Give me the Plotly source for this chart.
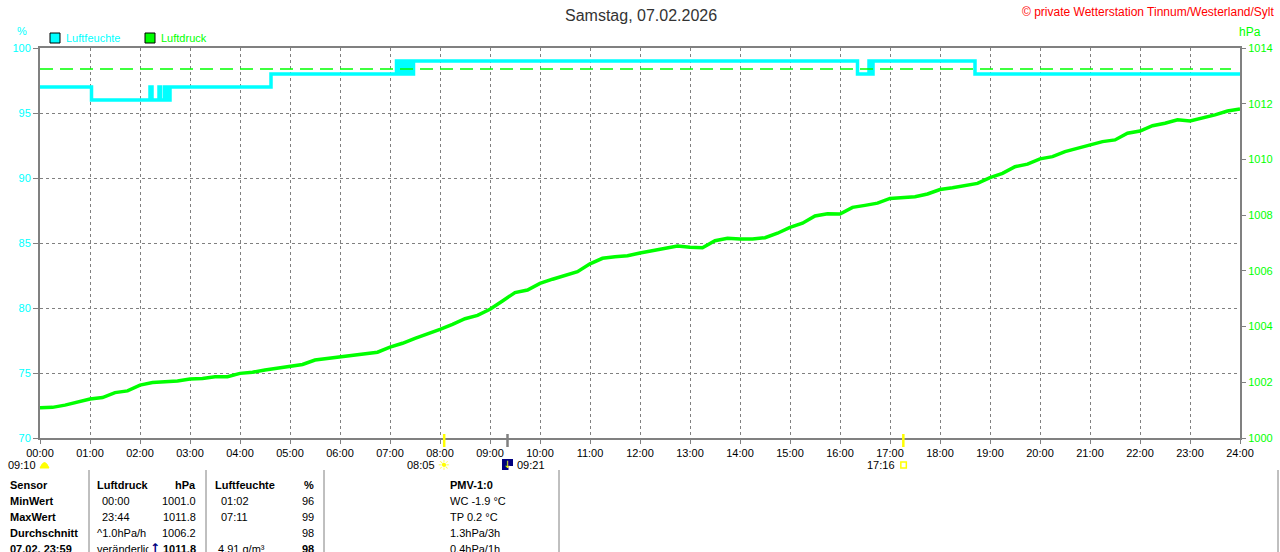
import plotly.graph_objects as go

# Luftdruck in hPa, alle 15 Minuten von 00:00 bis 24:00
druck = [
    1001.09, 1001.10, 1001.18, 1001.30, 1001.40, 1001.45, 1001.63, 1001.69,
    1001.90, 1001.99, 1002.01, 1002.05, 1002.12, 1002.14, 1002.20, 1002.20,
    1002.32, 1002.36, 1002.44, 1002.51, 1002.58, 1002.64, 1002.80, 1002.86,
    1002.90, 1002.99, 1003.04, 1003.08, 1003.26, 1003.40, 1003.58, 1003.73,
    1003.90, 1004.08, 1004.28, 1004.40, 1004.62, 1004.92, 1005.22, 1005.31,
    1005.55, 1005.70, 1005.82, 1005.97, 1006.25, 1006.45, 1006.51, 1006.54,
    1006.64, 1006.72, 1006.81, 1006.89, 1006.85, 1006.83, 1007.08, 1007.17,
    1007.14, 1007.14, 1007.19, 1007.35, 1007.56, 1007.71, 1007.97, 1008.05,
    1008.04, 1008.28, 1008.35, 1008.43, 1008.60, 1008.63, 1008.66, 1008.76,
    1008.92, 1008.98, 1009.05, 1009.14, 1009.35, 1009.50, 1009.74, 1009.83,
    1010.02, 1010.10, 1010.28, 1010.40, 1010.49, 1010.64, 1010.70, 1010.94,
    1011.02, 1011.21, 1011.30, 1011.42, 1011.38, 1011.48, 1011.60, 1011.74,
    1011.81,
]
druck_zeit = [i / 4 for i in range(len(druck))]

# Luftfeuchte in %, Zeitpunkte der Stufenwechsel (Stunden)
feuchte_zeit = [0, 1.03, 2.20, 2.24, 2.38, 2.41, 2.49, 2.54, 2.60, 4.62,
                7.13, 7.16, 7.19, 7.23, 7.26, 7.30, 7.33, 7.37, 7.40, 7.44, 7.47,
                16.35, 16.58, 16.61, 16.66, 18.70, 24.0]
feuchte = [97, 96, 97, 96, 97, 96, 97, 96, 97, 98,
           99, 98, 99, 98, 99, 98, 99, 98, 99, 98, 99,
           98, 99, 98, 99, 98, 98]

normaldruck = 1013.25
normal_zeit = [0, 23.82]

stunden = list(range(25))
stunden_text = [f"{h:02d}:00" for h in stunden]

# Sonnenaufgang, Mond, Sonnenuntergang
ereignis_zeit = [8 + 5 / 60, 9 + 21 / 60, 17 + 16 / 60]
ereignis_text = ["08:05", "09:21", "17:16"]
ereignis_farbe = ["#ffff00", "#808080", "#ffff00"]
mond_links = "09:10"

# Tabelle unten
sensor_spalte = ["Sensor", "MinWert", "MaxWert", "Durchschnitt", "07.02. 23:59"]
druck_spalte = ["Luftdruck", "00:00", "23:44", "^1.0hPa/h", "veränderlich"]
druck_werte = ["hPa", "1001.0", "1011.8", "1006.2", "1011.8"]
feuchte_spalte = ["Luftfeuchte", "01:02", "07:11", "", "4.91 g/m³"]
feuchte_werte = ["%", "96", "99", "98", "98"]
pmv_spalte = ["PMV-1:0", "WC -1.9 °C", "TP 0.2 °C", "1.3hPa/3h", "0.4hPa/1h"]

CYAN = "#00ffff"
GRUEN = "#00ff00"
GRAU = "#808080"
FONT = "Liberation Sans, Arial, sans-serif"

L, R, T, B = 40, 1240, 48, 438


def px(x):
    return (x - L) / (R - L)


def py(y):
    return (B - y) / (B - T)


fig = go.Figure()

fig.add_trace(go.Scatter(x=normal_zeit, y=[normaldruck, normaldruck], yaxis="y2",
                         mode="lines", line=dict(color=GRUEN, width=1.5, dash="13px,7px"),
                         hoverinfo="skip"))
fig.add_trace(go.Scatter(x=feuchte_zeit, y=feuchte, mode="lines",
                         line=dict(color=CYAN, width=3.5, shape="hv"), name="Luftfeuchte"))
fig.add_trace(go.Scatter(x=druck_zeit, y=druck, yaxis="y2", mode="lines",
                         line=dict(color=GRUEN, width=3.5), name="Luftdruck"))

fig.update_layout(
    width=1280, height=552,
    margin=dict(l=L, r=1280 - R, t=T, b=552 - B, pad=0),
    paper_bgcolor="white", plot_bgcolor="white",
    showlegend=False,
    font=dict(family=FONT, size=11, color="black"),
    xaxis=dict(range=[0, 24], tickvals=stunden, ticktext=stunden_text,
               showgrid=True, gridcolor=GRAU, gridwidth=1, griddash="3px,3px",
               showline=True, linecolor=GRAU, linewidth=2, mirror=True,
               ticks="outside", ticklen=4, tickcolor=GRAU, zeroline=False,
               automargin=False, tickfont=dict(size=11, color="black")),
    yaxis=dict(range=[70, 100], dtick=5, showgrid=True, gridcolor=GRAU,
               gridwidth=1, griddash="3px,3px",
               showline=True, linecolor=GRAU, linewidth=2, mirror=True,
               ticks="outside", ticklen=5, tickcolor=GRAU, zeroline=False,
               automargin=False, tickfont=dict(size=11, color=CYAN)),
    yaxis2=dict(range=[1000, 1014], dtick=2, overlaying="y", side="right",
                showgrid=False, zeroline=False, ticks="outside", ticklen=5,
                tickcolor=GRAU, automargin=False, tickfont=dict(size=11, color=GRUEN)),
)


def text(x, y, s, anchor="left", color="black", size=11, family=FONT, **kw):
    fig.add_annotation(x=px(x), y=py(y), xref="paper", yref="paper", text=s,
                       showarrow=False, xanchor=anchor, yanchor="middle",
                       font=dict(color=color, size=size, family=family), **kw)


# Titel und Kopfzeile
text(641, 15, "Samstag, 07.02.2026", anchor="center", color="#333333", size=16)
text(1277, 12, "© private Wetterstation Tinnum/Westerland/Sylt", anchor="right",
     color="#ff0000", size=12)
text(22, 31, "%", anchor="center", color=CYAN)
text(1250, 32, "hPa", anchor="center", color=GRUEN, size=12)

# Legende
for x0, farbe, name in [(50, CYAN, "Luftfeuchte"), (145, GRUEN, "Luftdruck")]:
    fig.add_shape(type="rect", xref="paper", yref="paper", x0=px(x0), x1=px(x0 + 10),
                  y0=py(43), y1=py(33), fillcolor=farbe, line=dict(color="black", width=1))
    text(x0 + 14, 38, name, color=farbe)

# Ereignisse an der Zeitachse
for t, s, farbe in zip(ereignis_zeit, ereignis_text, ereignis_farbe):
    fig.add_shape(type="line", xref="x", yref="paper", x0=t, x1=t, y0=py(434), y1=py(447),
                  line=dict(color=farbe, width=2.5))

text(38, 465, mond_links, anchor="right")
fig.add_shape(type="path", xref="paper", yref="paper",
              path=f"M {px(40)},{py(468)} Q {px(44.5)},{py(457)} {px(49)},{py(468)} Z",
              fillcolor="#ffff00", line=dict(color="#ffff00", width=1))

sx = L + ereignis_zeit[0] * 50
text(sx - 7, 465, ereignis_text[0], anchor="right")
text(sx, 465, "☀", anchor="center", color="#ffff00", size=14, family="DejaVu Sans")

mx = L + ereignis_zeit[1] * 50
fig.add_shape(type="rect", xref="paper", yref="paper", x0=px(mx - 5.5), x1=px(mx + 5.5),
              y0=py(470), y1=py(459), fillcolor="#000080", line=dict(width=0))
fig.add_shape(type="rect", xref="paper", yref="paper", x0=px(mx + 1), x1=px(mx + 5.5),
              y0=py(470), y1=py(466), fillcolor="white", line=dict(width=0))
text(mx - 1, 464, "↓", anchor="center", color="#ffff00", size=10, family="DejaVu Sans")
text(mx + 7, 465, ereignis_text[1])

ux = L + ereignis_zeit[2] * 50
text(ux - 6, 465, ereignis_text[2], anchor="right")
fig.add_shape(type="rect", xref="paper", yref="paper", x0=px(ux - 2.5), x1=px(ux + 3),
              y0=py(468), y1=py(462), line=dict(color="#ffff00", width=1.5))

# Tabelle
for x in [89, 206, 324, 559, 1278]:
    fig.add_shape(type="line", xref="paper", yref="paper", x0=px(x), x1=px(x),
                  y0=py(470), y1=py(552), line=dict(color=GRAU, width=1))

zeilen = [485, 501, 517, 533, 549]
for i, y in enumerate(zeilen):
    kopf = i == 0
    text(8, y, f"<b>{sensor_spalte[i]}</b>")
    text(95 if i in (0, 3, 4) else 100, y,
         f"<b>{druck_spalte[i]}</b>" if kopf else druck_spalte[i])
    text(198, y, f"<b>{druck_werte[i]}</b>" if kopf or i == 4 else druck_werte[i],
         anchor="right")
    if feuchte_spalte[i]:
        text(213 if kopf else (216 if i == 4 else 219), y,
             f"<b>{feuchte_spalte[i]}</b>" if kopf else feuchte_spalte[i])
    text(316, y, f"<b>{feuchte_werte[i]}</b>" if kopf or i == 4 else feuchte_werte[i],
         anchor="right")
    text(448, y, f"<b>{pmv_spalte[i]}</b>" if kopf else pmv_spalte[i])

text(155, 548, "<b>↑</b>", anchor="center", color="#000080", size=12,
     family="DejaVu Sans", bgcolor="white")

fig.write_html(
    "out.html",
    config={"displayModeBar": False},
    post_script="document.body.style.margin='0';"
                "document.body.style.overflow='hidden';"
                "document.documentElement.style.overflow='hidden';",
)
